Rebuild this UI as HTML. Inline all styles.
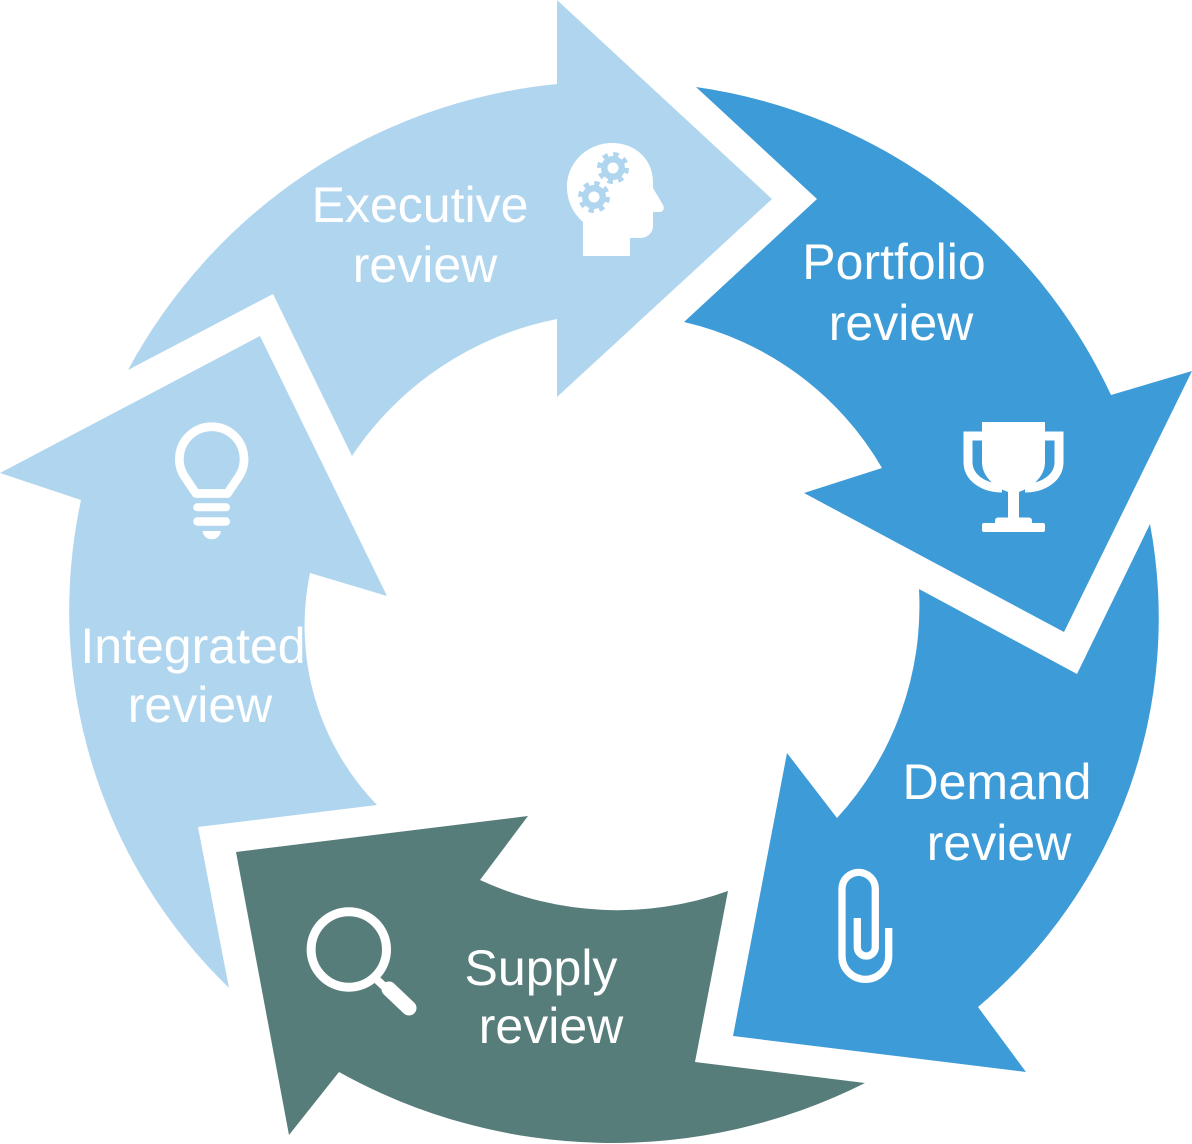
<!DOCTYPE html>
<html>
<head>
<meta charset="utf-8">
<style>
  html, body { margin: 0; padding: 0; background: #ffffff; }
  body { width: 1192px; height: 1144px; overflow: hidden; }
  svg { display: block; }
  text { font-family: "Liberation Sans", Arial, sans-serif; font-size: 50px; fill: #ffffff; text-anchor: middle; }
</style>
</head>
<body>
<svg width="1192" height="1144" viewBox="0 0 1192 1144" xmlns="http://www.w3.org/2000/svg">
  <!-- Executive review -->
  <path d="M128,370 A548,548 0 0 1 557,84 L557,0 L772,199 L557,397 L557,319 A320,320 0 0 0 352,456 L273,294 Z" fill="#b0d6ef"/>
  <!-- Portfolio review -->
  <path d="M696,87 A542,542 0 0 1 1111,395 L1192,371 L1064,632 L804,493 L882,468 A309,309 0 0 0 684,322 L817,199 Z" fill="#3d9bd8"/>
  <!-- Demand review -->
  <path d="M1150,524 A509,509 0 0 1 978,1007 L1026,1072 L733,1036 L787,753 L837,818 A314,314 0 0 0 919,589 L1077,674 Z" fill="#3d9bd8"/>
  <!-- Supply review -->
  <path d="M865,1083 A562,562 0 0 1 339,1072 L289,1135 L236,852 L528,816 L480,880 A328,328 0 0 0 728,891 L695,1062 Z" fill="#577d7a"/>
  <!-- Integrated review -->
  <path d="M229,988 A525,525 0 0 1 81,500 L0,473 L260,336 L387,596 L310,573 A258,258 0 0 0 377,805 L198,827 Z" fill="#b0d6ef"/>

  <!-- Head with gears icon -->
  <path d="M583,256 L583,222 C572,212 567,200 567,187 C567,162 588,143 612,143 C636,143 653,160 653,182 L653,188 L663,205 C665,209 663,212 659,212 L653,212 L653,226 C653,233 647,238 640,238 L630,238 L630,256 Z" fill="#ffffff"/>
  <g fill="#b0d6ef">
    <circle cx="613" cy="168" r="12"/>
    <circle cx="613" cy="168" r="13.5" fill="none" stroke="#b0d6ef" stroke-width="5" stroke-dasharray="5.3 5.3"/>
    <circle cx="594" cy="197" r="12"/>
    <circle cx="594" cy="197" r="13.5" fill="none" stroke="#b0d6ef" stroke-width="5" stroke-dasharray="5.3 5.3"/>
  </g>
  <circle cx="613" cy="168" r="5.5" fill="#ffffff"/>
  <circle cx="594" cy="197" r="5.5" fill="#ffffff"/>

  <!-- Lightbulb icon -->
  <path d="M196,493.5 L185.2,477.5 A32.3,32.3 0 1 1 238.2,477.5 L227.5,493.5 Z" fill="none" stroke="#ffffff" stroke-width="8.7" stroke-linejoin="round"/>
  <rect x="193.3" y="503.3" width="36.7" height="8" rx="4" fill="#ffffff"/>
  <rect x="193.3" y="517.3" width="36.7" height="8.4" rx="4" fill="#ffffff"/>
  <path d="M202.7,531 L220.7,531 A9,8.3 0 0 1 202.7,531 Z" fill="#ffffff"/>

  <!-- Trophy icon -->
  <path d="M982,422 L1045,422 L1045,462 C1045,478 1030,488 1019,492 L1019,519 L1008,519 L1008,492 C997,488 982,478 982,462 Z" fill="#ffffff"/>
  <path d="M984,436 L968,436 L968,462 C968,478 984,488 1002,488" fill="none" stroke="#ffffff" stroke-width="9"/>
  <path d="M1043,436 L1059,436 L1059,462 C1059,478 1043,488 1025,488" fill="none" stroke="#ffffff" stroke-width="9"/>
  <rect x="995" y="517.5" width="37" height="8" rx="3" fill="#ffffff"/>
  <rect x="982" y="523" width="63" height="9" rx="2" fill="#ffffff"/>

  <!-- Paperclip icon -->
  <path d="M888.7,928 L888.7,956 A23.35,23.35 0 0 1 842,956 L842,889 A16.65,16.65 0 0 1 875.3,889 L875.3,947 A9,9 0 0 1 857.3,947 L857.3,918" fill="none" stroke="#ffffff" stroke-width="7.3"/>

  <!-- Magnifier icon -->
  <circle cx="348.8" cy="949.5" r="37.7" fill="none" stroke="#ffffff" stroke-width="9"/>
  <line x1="374" y1="977" x2="388" y2="990" stroke="#ffffff" stroke-width="8"/>
  <line x1="389" y1="989" x2="409" y2="1008" stroke="#ffffff" stroke-width="15" stroke-linecap="round"/>

  <!-- Labels -->
  <text x="420" y="222">Executive</text>
  <text x="425" y="282">review</text>

  <text x="894" y="279">Portfolio</text>
  <text x="901" y="340">review</text>

  <text x="997" y="799">Demand</text>
  <text x="999" y="860">review</text>

  <text x="541" y="985">Supply</text>
  <text x="551" y="1043">review</text>

  <text x="193" y="663">Integrated</text>
  <text x="200" y="722">review</text>
</svg>
</body>
</html>
